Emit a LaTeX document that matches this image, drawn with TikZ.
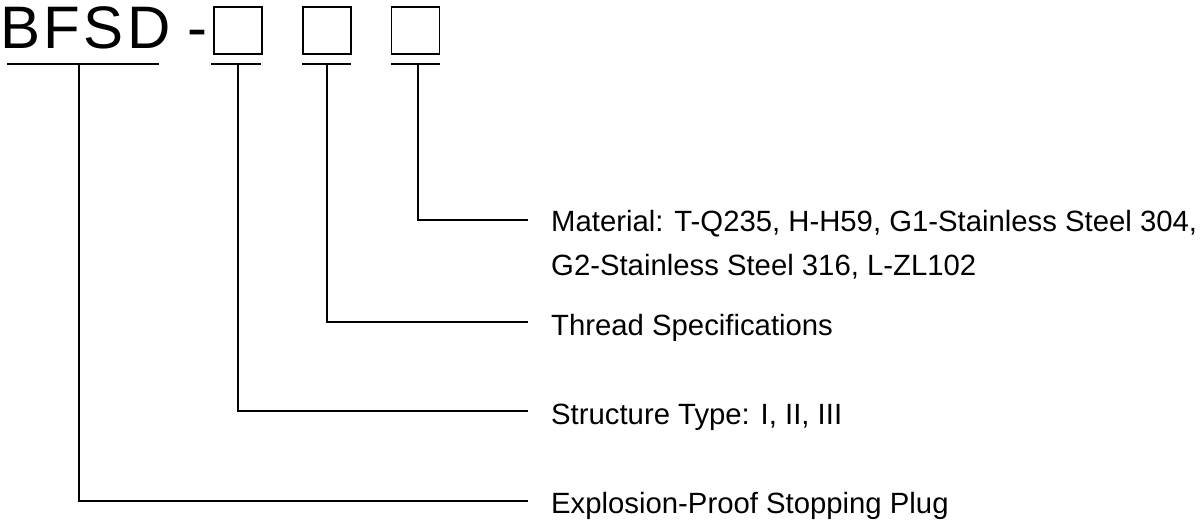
\documentclass[tikz,border=0pt]{standalone}
\usepackage{fontspec}
\setmainfont{Liberation Sans}
\usetikzlibrary{positioning}

\newcommand{\spc}{\kern3.2pt}

\begin{document}
\begin{tikzpicture}[
        x=1pt, y=-1pt,
        code/.style={anchor=base west, inner sep=0pt, font=\fontsize{60}{72}\selectfont},
        slot/.style={draw, line width=1.8pt, minimum width=48pt, minimum height=47pt, inner sep=0pt},
        txt/.style={anchor=base west, inner sep=0pt, font=\fontsize{29.3}{35}\selectfont},
        bar/.style={line width=2pt},
        link/.style={line width=1.6pt}
    ]
    \useasboundingbox (0,0) rectangle (1200,525);

    % Nodes
    \node[code] (code) at (0.6,48) {B\spc F\spc S\spc D -};
    \node[slot] (slot1) at (238,30.5) {};
    \node[slot] (slot2) at (327,30.5) {};
    \node[slot] (slot3) at (415.5,30.5) {};

    \node[txt] (mat) at (551,231) {Material: T-Q235, H-H59, G1-Stainless Steel 304,};
    \node[txt] (mat2) at ([yshift=-44pt]mat.base west) {G2-Stainless Steel 316, L-ZL102};
    \node[txt] (thread) at (551,335) {Thread Specifications};
    \node[txt] (struct) at (551,424) {Structure Type: I, II, III};
    \node[txt] (plug) at (551,513) {Explosion-Proof Stopping Plug};

    % Underlines
    \draw[bar] (7,64) -- (159,64);
    \draw[bar] (211,64) -- (261,64);
    \draw[bar] (302,64) -- (351,64);
    \draw[bar] (391,64) -- (440,64);

    % Ends of the connectors
    \coordinate (e3) at (528,220);
    \coordinate (e2) at (528,322);
    \coordinate (e1) at (528,411);
    \coordinate (e0) at (528,501);

    % Arrows
    \draw[link] (418,64) |- (e3);
    \draw[link] (327,64) |- (e2);
    \draw[link] (238,64) |- (e1);
    \draw[link] (79,64) |- (e0);

\end{tikzpicture}
\end{document}
